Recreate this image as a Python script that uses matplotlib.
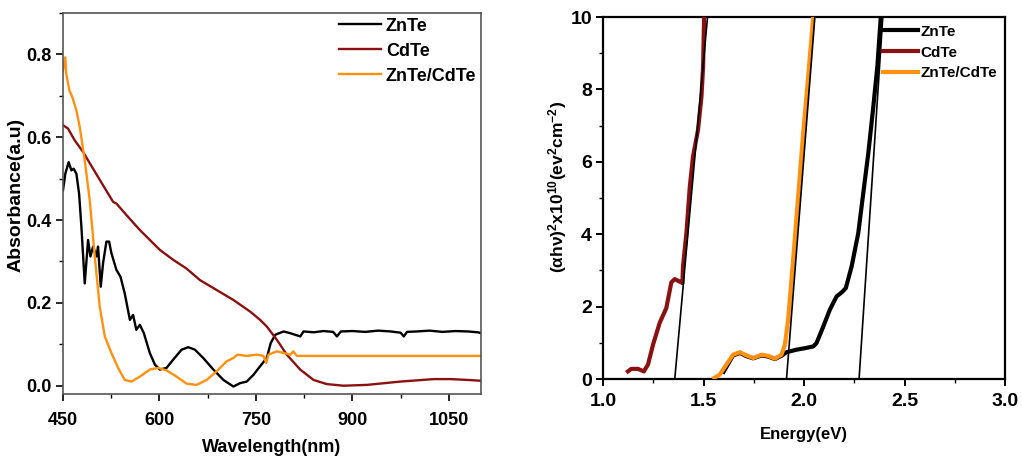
import numpy as np
import matplotlib
matplotlib.use("Agg")
import matplotlib.pyplot as plt
from matplotlib.ticker import MultipleLocator

plt.rcParams['font.family'] = ['Liberation Sans', 'DejaVu Sans']
plt.rcParams['font.weight'] = 'bold'
plt.rcParams['mathtext.fontset'] = 'custom'
plt.rcParams['mathtext.rm'] = 'Liberation Sans'
plt.rcParams['mathtext.bf'] = 'Liberation Sans:bold'
plt.rcParams['mathtext.it'] = 'Liberation Sans:italic'

# --- absorbance spectra (wavelength in nm) ---
znte_wl = [450, 453.6, 458.8, 463, 466.6, 470.8, 475, 478.6, 483.8, 489, 492.6, 496.8, 502, 504.5,
           508.7, 512.3, 517.5, 521.7, 525.3, 533, 539.4, 546, 554, 559, 564, 569.5, 575.7, 585,
           592.9, 600.6, 611, 621.4, 634.4, 644.8, 655.2, 668, 683.8, 699.4, 715, 725, 735.7, 746,
           756.5, 766.9, 773, 780, 793, 803, 819, 824, 840, 855, 870, 876, 882, 900, 920, 940, 960,
           975, 980, 985, 1000, 1020, 1040, 1060, 1080, 1095, 1100]
znte_abs = [0.472, 0.512, 0.540, 0.520, 0.524, 0.512, 0.464, 0.384, 0.247, 0.352, 0.312, 0.336, 0.312,
            0.336, 0.239, 0.296, 0.348, 0.348, 0.320, 0.280, 0.263, 0.223, 0.159, 0.171, 0.135, 0.147,
            0.127, 0.079, 0.051, 0.039, 0.043, 0.063, 0.087, 0.093, 0.087, 0.067, 0.039, 0.014, -0.002,
            0.006, 0.010, 0.026, 0.047, 0.067, 0.103, 0.123, 0.131, 0.127, 0.119, 0.131, 0.129, 0.132,
            0.130, 0.119, 0.131, 0.132, 0.130, 0.133, 0.131, 0.128, 0.119, 0.130, 0.131, 0.133, 0.130,
            0.132, 0.131, 0.129, 0.127]

cdte_wl = [450, 457.8, 468, 481, 496.8, 512.3, 527.9, 533, 548.7, 569.5, 600.6, 621.4, 642, 663, 689,
           715, 741, 756.5, 766.9, 782.5, 798, 818.8, 839.6, 860, 886, 922.7, 974.7, 1026.6, 1052.6,
           1078.6, 1100]
cdte_abs = [0.629, 0.621, 0.593, 0.565, 0.524, 0.484, 0.444, 0.440, 0.412, 0.376, 0.328, 0.304, 0.283,
            0.255, 0.231, 0.207, 0.179, 0.159, 0.143, 0.111, 0.075, 0.039, 0.014, 0.004, 0.0, 0.002,
            0.010, 0.016, 0.016, 0.014, 0.012]

het_wl = [450, 453.6, 455, 460, 464.5, 470.8, 476, 483.8, 491.6, 499.4, 507.1, 515, 525.3, 535.7, 546,
          556.5, 569.5, 585, 598, 611, 626.6, 642, 657.8, 673.4, 689, 704.5, 715, 721, 735.7, 751.3,
          761.7, 766, 769.5, 782.5, 793, 803.7, 808, 813.7, 850, 950, 1100]
het_abs = [0.761, 0.793, 0.753, 0.713, 0.697, 0.665, 0.625, 0.544, 0.448, 0.312, 0.191, 0.119, 0.079,
           0.043, 0.014, 0.010, 0.022, 0.039, 0.043, 0.037, 0.022, 0.005, 0.002, 0.014, 0.035, 0.059,
           0.067, 0.075, 0.072, 0.075, 0.072, 0.055, 0.075, 0.083, 0.079, 0.075, 0.083, 0.072, 0.072,
           0.072, 0.072]

# --- Tauc plots (energy in eV) ---
cdte_e = [1.124, 1.141, 1.174, 1.203, 1.224, 1.249, 1.282, 1.315, 1.340, 1.357, 1.378, 1.395, 1.398,
          1.415, 1.432, 1.448, 1.473, 1.490, 1.498, 1.503]
cdte_t = [0.21, 0.28, 0.28, 0.21, 0.40, 0.95, 1.55, 1.96, 2.67, 2.76, 2.70, 2.65, 3.11, 4.03, 5.32,
          6.15, 6.89, 7.81, 8.64, 10.0]

znte_e = [1.60, 1.647, 1.681, 1.714, 1.747, 1.789, 1.822, 1.855, 1.888, 1.913, 1.963, 2.013, 2.046,
          2.062, 2.096, 2.129, 2.162, 2.187, 2.208, 2.237, 2.270, 2.295, 2.320, 2.345, 2.365, 2.382]
znte_t = [0.20, 0.65, 0.72, 0.63, 0.57, 0.65, 0.62, 0.55, 0.64, 0.74, 0.81, 0.86, 0.90, 0.99, 1.45,
          1.92, 2.28, 2.39, 2.51, 3.11, 4.03, 5.14, 6.24, 7.53, 8.64, 10.0]

het_e = [1.553, 1.581, 1.614, 1.647, 1.681, 1.714, 1.747, 1.789, 1.822, 1.855, 1.888, 1.905, 1.921,
         1.946, 1.971, 1.996, 2.021, 2.046]
het_t = [0.03, 0.12, 0.40, 0.67, 0.74, 0.65, 0.58, 0.67, 0.64, 0.56, 0.67, 0.95, 1.64, 3.30, 5.05,
         6.80, 8.36, 10.0]

# linear fits: energy at y=0 (band gap) and at y=10
fit_e0 = [1.357, 1.913, 2.274]
fit_e10 = [1.520, 2.054, 2.392]

c_znte = 'black'
c_cdte = '#8b1010'
c_het = '#ff9010'

fig = plt.figure(figsize=(10.22, 4.59), dpi=100)
ax1 = fig.add_axes([63 / 1022, 1 - 394 / 459, 418 / 1022, 381 / 459])
ax2 = fig.add_axes([603 / 1022, 1 - 379 / 459, 402 / 1022, 362 / 459])

# absorbance
ax1.plot(znte_wl, znte_abs, color=c_znte, lw=1.7, label='ZnTe')
ax1.plot(cdte_wl, cdte_abs, color=c_cdte, lw=1.7, label='CdTe')
ax1.plot(het_wl, het_abs, color=c_het, lw=1.7, label='ZnTe/CdTe')
ax1.set_xlim(450, 1100)
ax1.set_ylim(-0.02, 0.9)
ax1.xaxis.set_major_locator(MultipleLocator(150))
ax1.xaxis.set_minor_locator(MultipleLocator(75))
ax1.yaxis.set_major_locator(MultipleLocator(0.2))
ax1.yaxis.set_minor_locator(MultipleLocator(0.1))
ax1.set_xlabel('Wavelength(nm)', fontsize=13, fontweight='bold', labelpad=7)
ax1.set_ylabel('Absorbance(a.u)', fontsize=14, fontweight='bold')
ax1.yaxis.set_label_coords(-0.092, 0.522)
ax1.legend(loc='upper right', bbox_to_anchor=(1.0, 1.0), frameon=False, fontsize=13,
           handlelength=2.3, borderaxespad=0.0, borderpad=0.25, labelspacing=0.45,
           handletextpad=0.3)
for s in ax1.spines.values():
    s.set_color('#555555')
    s.set_linewidth(1.2)

# Tauc plot
ax2.plot(znte_e, znte_t, color=c_znte, lw=3, label='ZnTe', zorder=3)
ax2.plot(cdte_e, cdte_t, color=c_cdte, lw=3, label='CdTe', zorder=3)
ax2.plot(het_e, het_t, color=c_het, lw=3, label='ZnTe/CdTe', zorder=4)
for e0, e10 in zip(fit_e0, fit_e10):
    ax2.plot([e0, e10], [0, 10], color='black', lw=1.2, zorder=5)
ax2.set_xlim(1.0, 3.0)
ax2.set_ylim(0, 10)
ax2.xaxis.set_major_locator(MultipleLocator(0.5))
ax2.xaxis.set_minor_locator(MultipleLocator(0.25))
ax2.yaxis.set_major_locator(MultipleLocator(2))
ax2.yaxis.set_minor_locator(MultipleLocator(1))
ax2.xaxis.set_major_formatter(plt.FormatStrFormatter('%.1f'))
ax2.set_xlabel('Energy(eV)', fontsize=12, fontweight='bold', labelpad=12)
ax2.set_ylabel(r'$\mathrm{(\alpha h\nu)}^{\mathbf{2}}\mathbf{x10^{10}(ev^{2}cm^{-2})}$', fontsize=12.5)
ax2.yaxis.set_label_coords(-0.085, 0.53)
ax2.legend(loc='upper right', bbox_to_anchor=(1.0, 1.0), frameon=False, fontsize=11,
           handlelength=2.3, borderaxespad=0.0, borderpad=0.5, labelspacing=0.45,
           handletextpad=0.2)
for s in ax2.spines.values():
    s.set_linewidth(1.6)

ax1.tick_params(which='major', direction='out', length=5, width=1.2, labelsize=13, pad=3)
ax1.tick_params(axis='x', which='major', pad=8)
ax1.tick_params(which='minor', direction='out', length=3, width=1)
ax2.tick_params(which='major', direction='out', length=5, width=1.4, labelsize=14, pad=5)
ax2.tick_params(axis='y', which='major', pad=3)
ax2.tick_params(which='minor', direction='out', length=3, width=1)
for ax in (ax1, ax2):
    for lab in ax.get_xticklabels() + ax.get_yticklabels():
        lab.set_fontweight('bold')

fig.savefig('out.png', dpi=100)
